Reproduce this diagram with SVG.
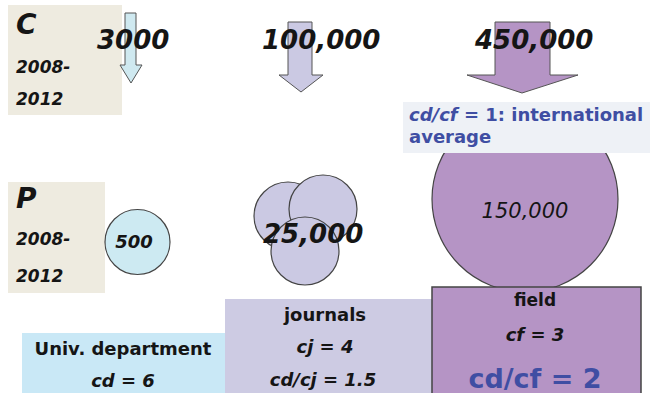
<svg xmlns="http://www.w3.org/2000/svg" width="650" height="393" viewBox="0 0 650 393">
<style>
text{font-family:"DejaVu Sans","Liberation Sans",sans-serif;font-weight:bold;fill:#151515}
.it{font-style:italic}
.lbl{font-size:18px}
.yr{font-size:17px;font-style:italic}
.big{font-size:26px;font-style:italic}
.mid{text-anchor:middle}
.blue{fill:#3f4ea3}
.arr{stroke:#555;stroke-width:1}
.beige{fill:#eeebe0}
.circ{stroke:#444;stroke-width:1.2}
</style>
<rect width="650" height="393" fill="#ffffff"/>
<g id="label-C">
<rect class="beige" x="8" y="5" width="114" height="110"/>
<text class="it" x="16" y="34" font-size="28">C</text>
<text class="yr" x="16" y="73">2008-</text>
<text class="yr" x="16" y="105">2012</text>
</g>
<g id="label-P">
<rect class="beige" x="8" y="182" width="97" height="111"/>
<text class="it" x="16" y="208" font-size="28">P</text>
<text class="yr" x="16" y="245">2008-</text>
<text class="yr" x="16" y="282">2012</text>
</g>
<g id="connectors">
<polygon class="arr" fill="#cfe9f0" points="125,13 136,13 136,65 142,65 131,83 120,65 125,65"/>
<polygon class="arr" fill="#cbc9e3" points="288,22 312,22 312,75 323,75 301,92 279,75 288,75"/>
<polygon class="arr" fill="#b594c5" points="495,22 550,22 550,75 578,75 522,93 467,75 495,75"/>
</g>
<g id="count-dept"><text class="big" x="97" y="49">3000</text></g>
<g id="count-journals"><text class="big" x="262" y="49">100,000</text></g>
<g id="count-field"><text class="big" x="475" y="49">450,000</text></g>
<g id="field-circle">
<circle class="circ" cx="525" cy="199" r="93" fill="#b594c5"/>
<text class="mid" x="525" y="218" style="font-size:21px;font-weight:normal;font-style:italic">150,000</text>
</g>
<g id="note">
<rect x="403" y="102" width="247" height="51" fill="#eef1f6"/>
<text class="blue lbl" x="409" y="121"><tspan class="it">cd/cf</tspan> = 1: international</text>
<text class="blue lbl" x="409" y="143">average</text>
</g>
<g id="dept-circle">
<circle class="circ" cx="137.5" cy="242" r="32.5" fill="#cdeaf2"/>
<text class="it mid" x="134" y="248" font-size="18">500</text>
</g>
<g id="journal-circles">
<circle class="circ" cx="288" cy="216" r="34" fill="#cbc9e3"/>
<circle class="circ" cx="323" cy="209" r="34" fill="#cbc9e3"/>
<circle class="circ" cx="305" cy="251" r="34" fill="#cbc9e3"/>
<text class="big" x="263" y="243">25,000</text>
</g>
<g id="dept-box">
<rect x="22" y="333" width="203" height="60" fill="#c9e8f6"/>
<text class="mid lbl" x="123" y="355">Univ. department</text>
<text class="mid lbl it" x="123" y="387">cd = 6</text>
</g>
<g id="journals-box">
<rect x="225" y="299" width="207" height="94" fill="#cdcbe3"/>
<text class="mid lbl" x="325" y="321">journals</text>
<text class="mid lbl it" x="325" y="353">cj = 4</text>
<text class="mid lbl it" x="323" y="386">cd/cj = 1.5</text>
</g>
<g id="field-box">
<rect x="432" y="287" width="209" height="110" fill="#b594c5" stroke="#444" stroke-width="1.5"/>
<text class="mid" x="535" y="306" font-size="17">field</text>
<text class="mid lbl it" x="535" y="341">cf = 3</text>
<text class="mid blue" x="535" y="388" font-size="27">cd/cf = 2</text>
</g>
</svg>
